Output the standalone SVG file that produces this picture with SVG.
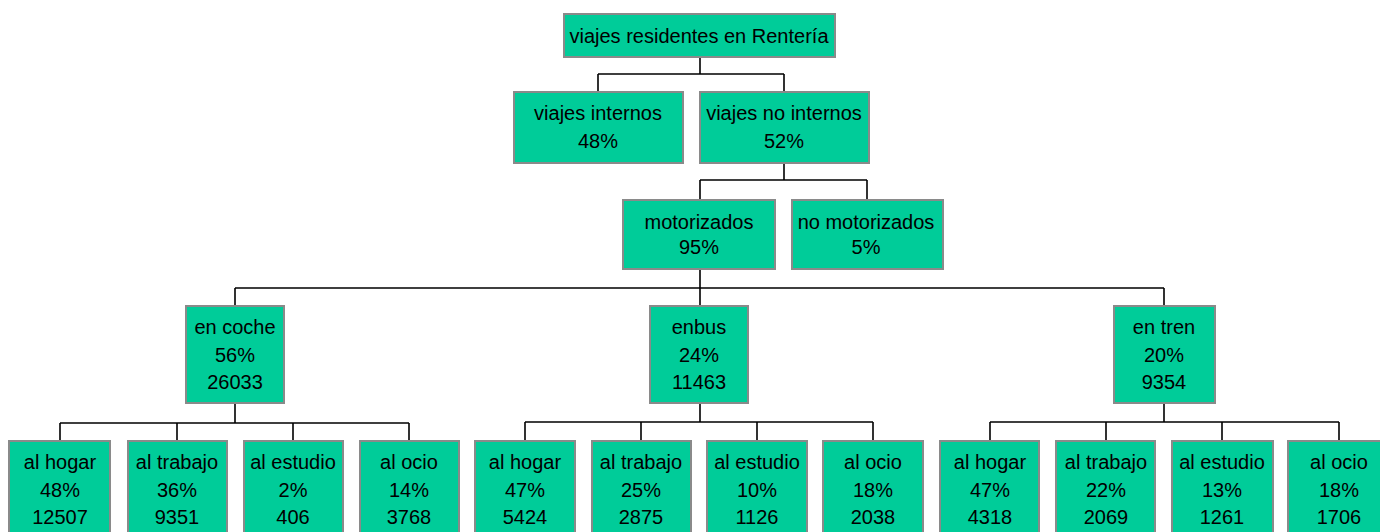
<svg xmlns="http://www.w3.org/2000/svg" width="1380" height="532" viewBox="0 0 1380 532">
<style>
.b{fill:#00CC99;stroke:#8a8a8a;stroke-width:2}
.t{font-family:"Liberation Sans",Arial,sans-serif;font-size:20px;fill:#000;text-anchor:middle}
.c{fill:none;stroke:#000;stroke-width:1.6}
</style>
<rect width="1380" height="532" fill="#fff"/>
<g id="connectors" class="c">
<path d="M700 57V74M598 74H784M598 74V92M784 74V92"/>
<path d="M784 163V180M700 180H867M700 180V200M867 180V200"/>
<path d="M700 269V288M235 288H1164M235 288V306M700 288V306M1164 288V306"/>
<path d="M235 403V423M60 423H409M60 423V441M177 423V441M293 423V441M409 423V441"/>
<path d="M700 403V422M525 422H873M525 422V441M641 422V441M757 422V441M873 422V441"/>
<path d="M1164 403V422M990 422H1339M990 422V441M1106 422V441M1222 422V441M1339 422V441"/>
</g>
<g id="root"><rect class="b" x="564" y="14" width="271" height="43"/><text class="t" x="699" y="43">viajes residentes en Rentería</text></g>
<g id="internos"><rect class="b" x="514" y="92" width="169" height="71"/><text class="t" x="598" y="120">viajes internos</text><text class="t" x="598" y="148">48%</text></g>
<g id="nointernos"><rect class="b" x="700" y="92" width="169" height="71"/><text class="t" x="784" y="120">viajes no internos</text><text class="t" x="784" y="148">52%</text></g>
<g id="motorizados"><rect class="b" x="623" y="200" width="152" height="69"/><text class="t" x="699" y="229">motorizados</text><text class="t" x="699" y="254">95%</text></g>
<g id="nomotorizados"><rect class="b" x="792" y="200" width="151" height="69"/><text class="t" x="866" y="229">no motorizados</text><text class="t" x="866" y="254">5%</text></g>
<g id="coche"><rect class="b" x="186" y="306" width="98" height="97"/><text class="t" x="235" y="334">en coche</text><text class="t" x="235" y="362">56%</text><text class="t" x="235" y="389">26033</text></g>
<g id="bus"><rect class="b" x="650" y="306" width="98" height="97"/><text class="t" x="699" y="334">enbus</text><text class="t" x="699" y="362">24%</text><text class="t" x="699" y="389">11463</text></g>
<g id="tren"><rect class="b" x="1114" y="306" width="101" height="97"/><text class="t" x="1164" y="334">en tren</text><text class="t" x="1164" y="362">20%</text><text class="t" x="1164" y="389">9354</text></g>
<g id="c1"><rect class="b" x="9" y="441" width="101" height="100"/><text class="t" x="60" y="469">al hogar</text><text class="t" x="60" y="497">48%</text><text class="t" x="60" y="524">12507</text></g>
<g id="c2"><rect class="b" x="128" y="441" width="99" height="100"/><text class="t" x="177" y="469">al trabajo</text><text class="t" x="177" y="497">36%</text><text class="t" x="177" y="524">9351</text></g>
<g id="c3"><rect class="b" x="244" y="441" width="99" height="100"/><text class="t" x="293" y="469">al estudio</text><text class="t" x="293" y="497">2%</text><text class="t" x="293" y="524">406</text></g>
<g id="c4"><rect class="b" x="360" y="441" width="99" height="100"/><text class="t" x="409" y="469">al ocio</text><text class="t" x="409" y="497">14%</text><text class="t" x="409" y="524">3768</text></g>
<g id="b1"><rect class="b" x="475" y="441" width="100" height="100"/><text class="t" x="525" y="469">al hogar</text><text class="t" x="525" y="497">47%</text><text class="t" x="525" y="524">5424</text></g>
<g id="b2"><rect class="b" x="592" y="441" width="99" height="100"/><text class="t" x="641" y="469">al trabajo</text><text class="t" x="641" y="497">25%</text><text class="t" x="641" y="524">2875</text></g>
<g id="b3"><rect class="b" x="707" y="441" width="100" height="100"/><text class="t" x="757" y="469">al estudio</text><text class="t" x="757" y="497">10%</text><text class="t" x="757" y="524">1126</text></g>
<g id="b4"><rect class="b" x="823" y="441" width="100" height="100"/><text class="t" x="873" y="469">al ocio</text><text class="t" x="873" y="497">18%</text><text class="t" x="873" y="524">2038</text></g>
<g id="t1"><rect class="b" x="940" y="441" width="99" height="100"/><text class="t" x="990" y="469">al hogar</text><text class="t" x="990" y="497">47%</text><text class="t" x="990" y="524">4318</text></g>
<g id="t2"><rect class="b" x="1056" y="441" width="99" height="100"/><text class="t" x="1106" y="469">al trabajo</text><text class="t" x="1106" y="497">22%</text><text class="t" x="1106" y="524">2069</text></g>
<g id="t3"><rect class="b" x="1172" y="441" width="101" height="100"/><text class="t" x="1222" y="469">al estudio</text><text class="t" x="1222" y="497">13%</text><text class="t" x="1222" y="524">1261</text></g>
<g id="t4"><rect class="b" x="1288" y="441" width="101" height="100"/><text class="t" x="1339" y="469">al ocio</text><text class="t" x="1339" y="497">18%</text><text class="t" x="1339" y="524">1706</text></g>
</svg>
